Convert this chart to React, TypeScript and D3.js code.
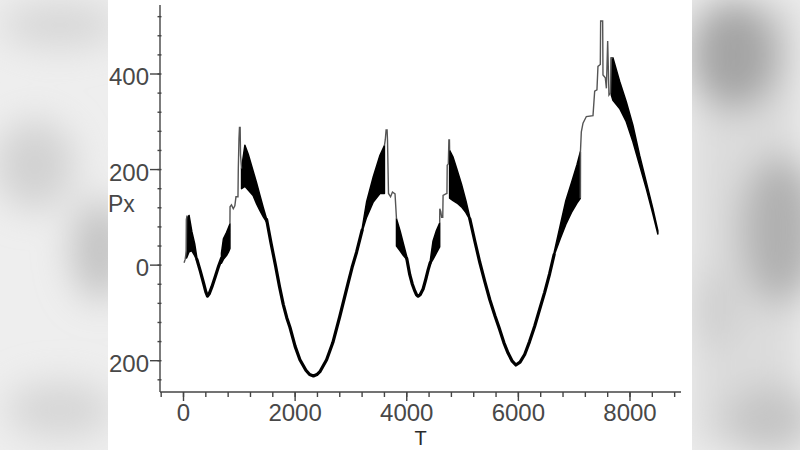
import React from 'react';
import * as d3 from 'd3';

// Px vs T trajectory.
// smooth arcs (single line), oscillation bands [T, lo, hi], thin jump segments
const arc1: [number, number][] = [[240, 12], [300, -12], [360, -38], [400, -56], [430, -65], [460, -60], [510, -45], [570, -24], [630, -2], [680, 14]];
const arc2: [number, number][] = [[1490, 95], [1570, 45], [1647, 0], [1720, -45], [1787, -82], [1850, -110], [1907, -130], [2000, -170], [2086, -198], [2193, -220], [2260, -229], [2328, -232], [2390, -229], [2444, -223], [2564, -198], [2676, -162], [2801, -107], [2944, -40], [3020, -5], [3101, 27], [3200, 73]];
const arc3: [number, number][] = [[4000, 14], [4054, -20], [4100, -40], [4144, -54], [4175, -62], [4204, -65], [4240, -62], [4293, -50], [4340, -30], [4383, -10], [4420, 5]];
const arc4: [number, number][] = [[5130, 97], [5220, 50], [5308, 6], [5400, -35], [5487, -72], [5580, -106], [5666, -135], [5740, -162], [5815, -184], [5890, -201], [5955, -209], [6030, -203], [6113, -187], [6200, -160], [6292, -128], [6380, -93], [6471, -57], [6560, -18], [6640, 22]];

const band1: [number, number, number][] = [[55, 15, 97], [100, 28, 104], [150, 30, 70], [200, 20, 45], [240, 10, 15]];
const band2: [number, number, number][] = [[680, 4, 25], [715, 12, 55], [770, 20, 68], [805, 27, 78], [832, 35, 86]];
const band3: [number, number, number][] = [[1040, 160, 202], [1100, 165, 251], [1160, 157, 232], [1250, 145, 196], [1310, 128, 172], [1370, 114, 146], [1430, 101, 120], [1490, 90, 96]];
const band4: [number, number, number][] = [[3200, 70, 76], [3280, 100, 132], [3400, 132, 185], [3520, 150, 230], [3600, 150, 250]];
const band5: [number, number, number][] = [[3816, 40, 97], [3880, 30, 72], [3940, 20, 45], [4000, 12, 18]];
const band6: [number, number, number][] = [[4420, 2, 8], [4470, 12, 50], [4530, 25, 72], [4590, 38, 88]];
const band7: [number, number, number][] = [[4768, 140, 240], [4830, 135, 226], [4900, 130, 200], [4980, 122, 170], [5060, 110, 135], [5130, 95, 100]];
const band8: [number, number, number][] = [[6640, 20, 26], [6750, 55, 83], [6850, 85, 135], [6950, 110, 172], [7050, 130, 210], [7110, 140, 237]];
const band9: [number, number, number][] = [[7665, 356, 434], [7694, 345, 434], [7814, 328, 385], [7933, 300, 342], [8052, 258, 293], [8172, 209, 230], [8291, 160, 174], [8410, 107, 118], [8499, 65, 72]];

const jump0: [number, number][] = [[10, 5], [30, 12], [50, 30], [55, 95], [62, 104]];
const jump1: [number, number][] = [[832, 86], [834, 122], [860, 126], [892, 118], [920, 124], [940, 143], [976, 143], [982, 202], [994, 265], [1003, 288], [1015, 288], [1022, 230], [1040, 202]];
const jump2: [number, number][] = [[3600, 250], [3615, 262], [3630, 283], [3648, 283], [3655, 262], [3673, 150], [3710, 143], [3744, 153], [3790, 149], [3816, 97]];
const jump3: [number, number][] = [[4590, 88], [4592, 118], [4610, 112], [4625, 100], [4645, 100], [4651, 146], [4700, 149], [4720, 150], [4725, 209], [4745, 212], [4755, 262], [4765, 262], [4768, 240]];
const jump4: [number, number][] = [[7110, 140], [7112, 237], [7128, 279], [7158, 297], [7218, 311], [7337, 313], [7367, 364], [7408, 367], [7426, 416], [7468, 420], [7474, 511], [7510, 511], [7516, 398], [7558, 392], [7577, 370], [7600, 469], [7623, 356], [7650, 360], [7665, 434], [7694, 434]];

const arcs = [arc1, arc2, arc3, arc4];
const bands = [band1, band2, band3, band4, band5, band6, band7, band8, band9];
const jumps = [jump0, jump1, jump2, jump3, jump4];

const xTicks = [0, 2000, 4000, 6000, 8000];
const yTicks = [-200, 0, 200, 400];

const W = 800;
const H = 450;

const App: React.FC = () => {
  const x = d3.scaleLinear().domain([0, 8000]).range([183.5, 630]);
  const y = d3.scaleLinear().domain([-200, 400]).range([360.7, 74]);

  const axisLeft = 160;
  const axisRight = 681;
  const axisTop = 5;
  const axisBottom = 392;

  const line = d3.line<[number, number]>().x(d => x(d[0])).y(d => y(d[1]));
  const area = d3.area<[number, number, number]>()
    .x(d => x(d[0]))
    .y0(d => y(d[1]))
    .y1(d => y(d[2]));

  const xMinor = d3.range(-400, 8801, 400).filter(v => x(v) >= axisLeft - 1 && x(v) <= axisRight);
  const yMinor = d3.range(-240, 561, 40).filter(v => y(v) >= axisTop && y(v) <= axisBottom);

  const font = "'Liberation Sans', Arial, sans-serif";

  return (
    <svg width={W} height={H} style={{ position: 'absolute', left: 0, top: 0 }}>
      <defs>
        <filter id="blur" x="-50%" y="-50%" width="200%" height="200%">
          <feGaussianBlur stdDeviation="18" />
        </filter>
      </defs>
      {/* blurred frame background */}
      <rect x={0} y={0} width={W} height={H} fill="#eeeeee" />
      <g filter="url(#blur)">
        <ellipse cx={60} cy={25} rx={60} ry={22} fill="#d6d6d6" />
        <ellipse cx={35} cy={165} rx={40} ry={45} fill="#d2d2d2" />
        <ellipse cx={100} cy={250} rx={28} ry={50} fill="#c2c2c2" />
        <ellipse cx={60} cy={410} rx={55} ry={28} fill="#d6d6d6" />
        <rect x={692} y={0} width={108} height={450} fill="#dcdcdc" />
        <ellipse cx={735} cy={55} rx={45} ry={55} fill="#a4a4a4" />
        <ellipse cx={780} cy={230} rx={40} ry={75} fill="#b0b0b0" />
        <ellipse cx={715} cy={310} rx={25} ry={40} fill="#cfcfcf" />
        <ellipse cx={770} cy={420} rx={45} ry={35} fill="#c4c4c4" />
      </g>
      <rect x={108} y={0} width={584} height={H} fill="#ffffff" />

      {/* axes */}
      <g stroke="#444" strokeWidth={1.4}>
        <line x1={axisLeft} y1={axisTop} x2={axisLeft} y2={axisBottom} />
        <line x1={axisLeft} y1={axisBottom} x2={axisRight} y2={axisBottom} />
        {yMinor.map(v => (
          <line key={'ym' + v} x1={axisLeft - 2.5} x2={axisLeft + 1.5} y1={y(v)} y2={y(v)} />
        ))}
        {yTicks.map(v => (
          <line key={'yM' + v} x1={axisLeft - 10} x2={axisLeft} y1={y(v)} y2={y(v)} />
        ))}
        {xMinor.map(v => (
          <line key={'xm' + v} x1={x(v)} x2={x(v)} y1={axisBottom} y2={axisBottom + 5} />
        ))}
        {xTicks.map(v => (
          <line key={'xM' + v} x1={x(v)} x2={x(v)} y1={axisBottom} y2={axisBottom + 9} />
        ))}
      </g>
      <g fill="#484848" fontFamily={font} fontSize={24}>
        {yTicks.map(v => (
          <text key={'yl' + v} x={149} y={y(v) + 11} textAnchor="end">{Math.abs(v)}</text>
        ))}
        {xTicks.map(v => (
          <text key={'xl' + v} x={x(v)} y={421} textAnchor="middle">{v}</text>
        ))}
      </g>
      <text x={108} y={212} fontFamily={font} fontSize={23} fill="#484848">Px</text>
      <text x={(axisLeft + axisRight) / 2} y={445} fontFamily={font} fontSize={20} fill="#2a2a2a" textAnchor="middle">T</text>

      {/* curve */}
      {bands.map((b, i) => (
        <path key={'b' + i} d={area(b) || ''} fill="#000" stroke="#000" strokeWidth={1.5} strokeLinejoin="round" />
      ))}
      {jumps.map((j, i) => (
        <path key={'j' + i} d={line(j) || ''} fill="none" stroke="#555" strokeWidth={1.4} />
      ))}
      {arcs.map((a, i) => (
        <path key={'a' + i} d={line(a) || ''} fill="none" stroke="#000" strokeWidth={3.2} strokeLinejoin="round" strokeLinecap="round" />
      ))}
    </svg>
  );
};

export default App;
